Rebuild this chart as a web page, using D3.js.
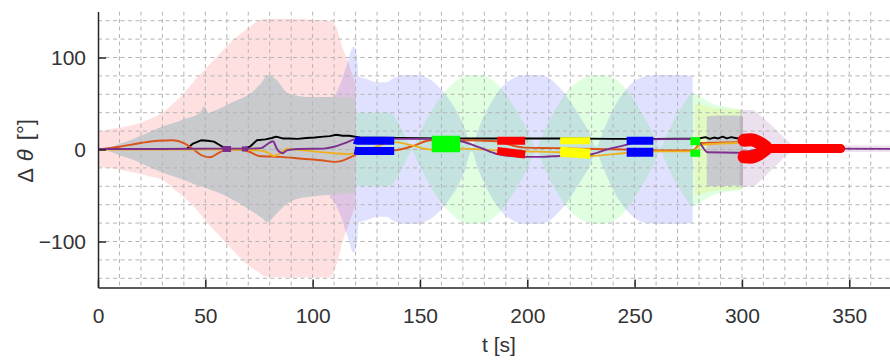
<!DOCTYPE html>
<html>
<head>
<meta charset="utf-8">
<script src="https://cdn.jsdelivr.net/npm/d3@7"></script>
<style>
  body { margin: 0; background: #fff; }
  svg { display: block; font-family: "Liberation Sans", Arial, Helvetica, sans-serif; }
</style>
</head>
<body>
<svg id="chart" width="890" height="362"></svg>
<script>
// ---- tick labels ----
const xTicks = [0, 50, 100, 150, 200, 250, 300, 350];
const yTicks = [-100, 0, 100];

// ---- uncertainty bands: [t, lower, upper] ----
const pinkBand = [[0,-19,20],[8,-21,23],[16.5,-25,27],[24,-29,33],[30,-33,40],[35,-42,50],[40,-52,61],[45,-63,75],
  [51,-80,90],[57,-95,105],[63,-110,119],[70,-126,132],[74,-132,139],[78,-138,142],[90,-139,142],[100,-139,141],
  [108,-139,140],[111,-126,133],[114,-100,110],[117,-80,92],[120,-60,70]];
const grayBand = [[0,0,0],[5,-2,2],[11,-7,7],[16,-11,11],[22,-17,17],[30,-25,25],[40,-33,33],[47.5,-40,40],
  [49.5,-41,47],[51.5,-43,40],[55,-46,43],[63,-55,52],[71,-66,61],[76,-74,72],[79,-79,81],[83,-70,76],
  [88,-59,62],[94,-53,58],[100,-51,57],[110,-49,57],[120,-47,56]];
const grayBand2 = [[283.6,-40,36],[290,-40,37],[296,-39,37],[300.5,-39,36]];
const yellowBand = [[278,-50,50],[282,-48,48],[286,-45,45],[292,-44,44],[300,-43,43]];
const purpleBand = [[299,-40,43],[305,-40,43],[309,-33,36],[313,-24,28],[317,-15,19],[321,-6,10],[324,-3,5],[370,-2.5,4]];
// symmetric bands: [t, half width]
const blueHalf = [[108,52],[110,57],[113,72],[116,93],[119,112],[120.5,104],[121.5,79],[125,77],[130,73],[134,73],
  [138,78],[143,81],[148,81],[152,79],[156,74],[160,65],[164,53],[168,38],[171,22],[174,2],
  [177,21],[181,42],[185,58],[189,70],[194,78],[199,81],[204,81],[209,79],[213,72],[217,62],[221,49],[225,34],[229,18],[232,3],
  [235,18],[239,39],[243,56],[247,68],[251,76],[256,80],[262,81],[270,81],[276,80],[277,79],[277.3,0]];
const greenHalf = [[120,40],[136,40],[139,32],[142,20],[145,5],[146,1],[149,13],[153,32],[157,48],[161,61],[165,71],
  [170,79],[175,81],[180,80],[184,75],[188,66],[192,53],[196,38],[200,21],[203,5],[204,1],
  [207,15],[211,35],[215,51],[219,64],[223,73],[228,79],[234,81],[239,79],[243,73],[247,63],[251,49],[255,33],[259,16],[262,2],
  [265,16],[269,35],[273,50],[277,62],[281,57],[286,50],[291,47],[296,45],[300,44]];

// ---- trajectories Δθ(t) ----
const blackLine = [[41,0],[44,6],[48,10],[51,9.5],[54,8.5],[58,3],[62,0.5],[68,1],[71,3.5],[74,10],[78,11],[81,12.5],
  [83,14],[86,12],[89,12],[93,11.5],[97,12.5],[101,13],[105,14],[108,14.5],[111,16],[114,15],[117,15],[122,13],
  [140,12.5],[160,12],[180,12],[200,12],[220,12],[240,11.5],[260,11.5],[280,12],[283,13.5],[285,11.5],[287,13],
  [289,12],[291,14],[293,12],[295,13.5],[297,12.5],[298.5,12]];
const orangeLine = [[0,0],[10,3],[20,7],[28,9.5],[35,10],[40,7],[44,1],[48,-6],[52,-8.5],[56,-4],[60,0],[66,0],
  [71,-3],[75,-7],[85,-8],[95,-10],[105,-12],[110,-13.5],[114,-12],[118,-8],[122,-4],[130,-2],[138,-1],[147,4],
  [155,10],[169,10],[186,9],[192,5],[199,2],[215,1.5],[230,0.5],[246,0],[260,-1],[277,-1],[281,7],[298,8]];
const yellowLine = [[0,0],[64,0],[75,-1],[79,-3],[82,-7],[85,-4],[88,1],[92,0],[100,-2],[110,-4],[117,-5],[122,-3],
  [138,8],[147,4],[155,0],[169,1],[186,-1],[199,-2],[215,-3],[230,-7],[240,-5],[250,-3],[260,-2],[277,-2],[281,5],[298,7]];
const purpleLine = [[0,0.5],[30,0.5],[55,1],[70,1],[76,1.5],[79,6],[81.5,9],[83.5,0],[86,-4],[88,-1],[93,0.5],
  [105,1],[110,3],[115,7],[120,11],[138,11.5],[155,11.5],[169,9],[178,2],[186,-5],[199,-8],[206,-8],[215,-7],
  [229,-5.5],[237,0],[246,5],[255,11],[276,11.5],[280,8],[284,-3],[298,-3.5],[305,-1],[312,1],[370,0.7]];

// ---- highlighted estimate segments ----
const purpleSegA = [[58,0.5],[62,0.5]];
const purpleSegB = [[67,0.6],[70,0.8]];
const blueSeg1Up = [[119.5,10.5],[121,9.5],[138,9.5]];
const blueSeg1Lo = [[119.5,-1],[121,-1.5],[138,-1.5]];
const greenSeg1Up = [[155.5,10],[168.7,10]];
const greenSeg1Lo = [[155.5,2],[168.7,2]];
const redSeg1Up = [[186,9.5],[199,9.5]];
const redSeg1Lo = [[186,-1.5],[199,-5.5]];
const yellowSeg1Up = [[215.3,9.5],[229.3,9.5]];
const yellowSeg1Lo = [[215.3,-2.5],[229.3,-4.5]];
const blueSeg2Up = [[246.3,9.5],[258.7,9.5]];
const blueSeg2Lo = [[246.3,-3],[258.7,-3]];
const greenSeg2Up = [[276,9],[280.5,9]];
const greenSeg2Lo = [[276,-4],[280.5,-4]];
const redSeg2Up = [[301,10],[304,10.5],[308,7.5],[311,3]];
const redSeg2Lo = [[301,-8],[304,-8.5],[308,-5],[311,0]];
const redSeg2Tail = [[309,1.5],[315,1],[330,1],[346,1]];

// ---- layout ----
const svg = d3.select("#chart");
const x = d3.scaleLinear().domain([0, 370]).range([98, 892.2]);
const y = d3.scaleLinear().domain([-150, 150]).range([287.5, 11.5]);

svg.append("defs").append("clipPath").attr("id", "plotClip")
  .append("rect").attr("x", 98).attr("y", 11.5).attr("width", 800).attr("height", 276);

const plot = svg.append("g").attr("clip-path", "url(#plotClip)");

const bandArea = d3.area().curve(d3.curveMonotoneX)
  .x(d => x(d[0])).y0(d => y(d[1])).y1(d => y(d[2]));
const halfArea = d3.area().curve(d3.curveMonotoneX)
  .x(d => x(d[0])).y0(d => y(-d[1])).y1(d => y(d[1]));

plot.append("path").datum(pinkBand).attr("d", bandArea).attr("fill", "rgba(255,0,0,0.12)");
plot.append("path").datum(blueHalf).attr("d", halfArea).attr("fill", "rgba(0,0,255,0.12)");
plot.append("path").datum(greenHalf).attr("d", halfArea).attr("fill", "rgba(0,255,0,0.12)");
plot.append("path").datum(yellowBand).attr("d", bandArea).attr("fill", "rgba(230,220,0,0.14)");
plot.append("path").datum(grayBand).attr("d", bandArea).attr("fill", "#c9cacd");
plot.append("path").datum(grayBand2).attr("d", bandArea).attr("fill", "#c9cacd");
plot.append("path").datum(purpleBand).attr("d", bandArea).attr("fill", "rgba(126,47,142,0.15)");

// minor grid
const grid = plot.append("g").attr("stroke", "#b4b4b4").attr("stroke-width", 1).attr("stroke-dasharray", "4,3.5");
grid.selectAll("line.gx").data(x.ticks(37)).join("line")
  .attr("x1", d => x(d)).attr("x2", d => x(d)).attr("y1", 11.5).attr("y2", 287.5);
grid.selectAll("line.gy").data(y.ticks(15)).join("line")
  .attr("y1", d => y(d)).attr("y2", d => y(d)).attr("x1", 98).attr("x2", 890);

// trajectories
const line = d3.line().x(d => x(d[0])).y(d => y(d[1]));
const smooth = d3.line().curve(d3.curveMonotoneX).x(d => x(d[0])).y(d => y(d[1]));
const thin = [
  [blackLine, "#000000", line],
  [orangeLine, "#D95319", smooth],
  [yellowLine, "#EDB120", smooth],
  [purpleLine, "#7E2F8E", smooth]
];
thin.forEach(([data, color, gen]) => {
  plot.append("path").datum(data).attr("d", gen)
    .attr("fill", "none").attr("stroke", color).attr("stroke-width", 1.9)
    .attr("stroke-linejoin", "round");
});

// highlighted segments
const thick = [
  [purpleSegA, "#7E2F8E", 6, "butt"], [purpleSegB, "#7E2F8E", 5, "butt"],
  [blueSeg1Up, "#0000FF", 8, "butt"], [blueSeg1Lo, "#0000FF", 8, "butt"],
  [greenSeg1Up, "#00FF00", 9, "butt"], [greenSeg1Lo, "#00FF00", 9, "butt"],
  [redSeg1Up, "#FF0000", 8, "butt"], [redSeg1Lo, "#FF0000", 8, "butt"],
  [yellowSeg1Up, "#FFFF00", 7, "butt"], [yellowSeg1Lo, "#FFFF00", 10, "butt"],
  [blueSeg2Up, "#0000FF", 8, "butt"], [blueSeg2Lo, "#0000FF", 9, "butt"],
  [greenSeg2Up, "#00FF00", 8, "butt"], [greenSeg2Lo, "#00FF00", 7, "butt"],
  [redSeg2Up, "#FF0000", 13, "round"], [redSeg2Lo, "#FF0000", 13, "round"],
  [redSeg2Tail, "#FF0000", 9, "round"]
];
thick.forEach(([data, color, w, cap]) => {
  plot.append("path").datum(data).attr("d", smooth)
    .attr("fill", "none").attr("stroke", color).attr("stroke-width", w)
    .attr("stroke-linecap", cap).attr("stroke-linejoin", "round");
});

// axes
const axisColor = "#262626";
const gx = svg.append("g").attr("transform", `translate(0,${y(-150)})`)
  .call(d3.axisBottom(x).tickValues(xTicks).tickSize(-8).tickSizeOuter(0).tickPadding(20.5));
const gy = svg.append("g").attr("transform", `translate(${x(0)},0)`)
  .call(d3.axisLeft(y).tickValues(yTicks).tickSize(-8).tickSizeOuter(0).tickPadding(12));
[gx, gy].forEach(g => {
  g.select(".domain").attr("stroke", axisColor).attr("stroke-width", 1.5);
  g.selectAll(".tick line").attr("stroke", axisColor).attr("stroke-width", 1.5);
  g.selectAll(".tick text").attr("fill", "#333").attr("font-size", 21)
    .attr("font-family", '"Liberation Sans", Arial, sans-serif');
});

// axis labels
svg.append("text").attr("x", 499).attr("y", 352).attr("text-anchor", "middle")
  .attr("font-size", 21).attr("fill", "#333").text("t [s]");
const yl = svg.append("text").attr("transform", "translate(33,151) rotate(-90)")
  .attr("text-anchor", "middle").attr("font-size", 22).attr("fill", "#333");
yl.append("tspan").text("Δ");
yl.append("tspan").attr("dx", 7).attr("font-style", "italic").text("θ");
yl.append("tspan").attr("dx", 9).text("[°]");
</script>
</body>
</html>
